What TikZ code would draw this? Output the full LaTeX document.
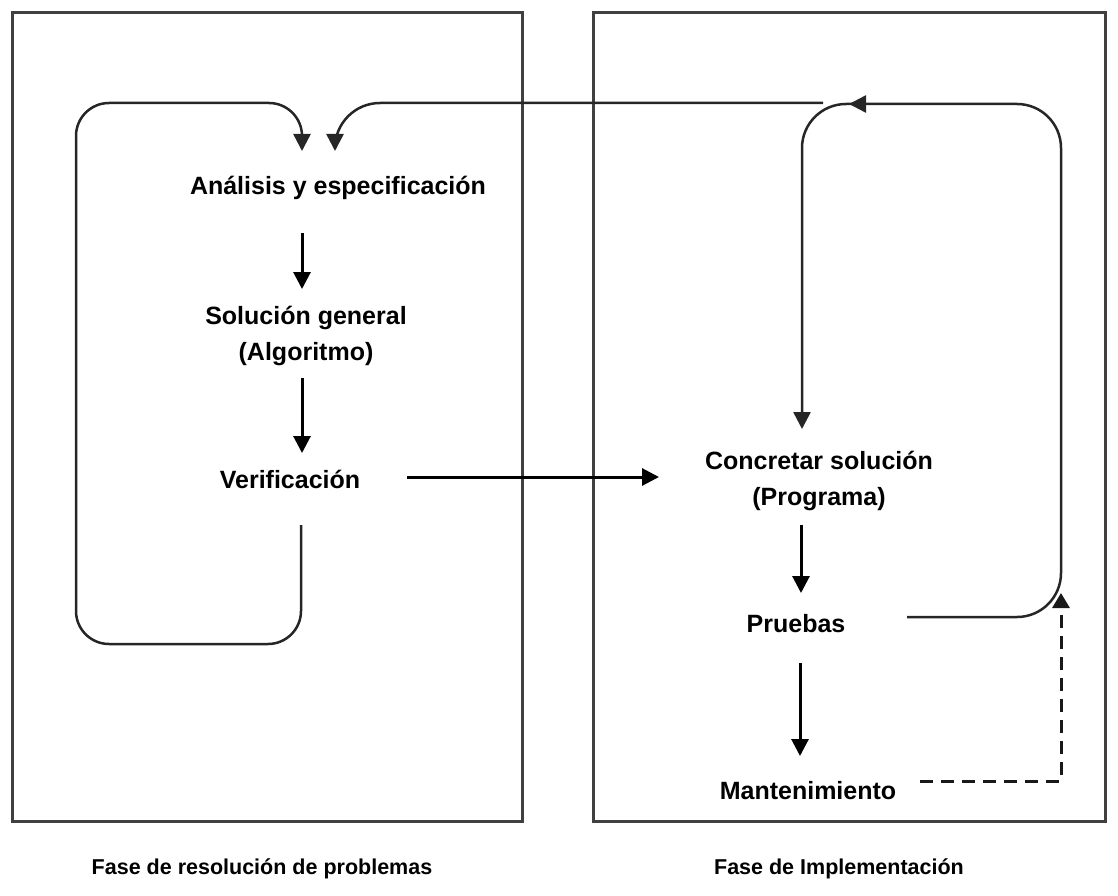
\documentclass[tikz,border=0pt]{standalone}
\usepackage{fontspec}
\setmainfont{Liberation Sans}
\usetikzlibrary{arrows.meta}
\begin{document}
\begin{tikzpicture}[x=1pt,y=-1pt,
  lbl/.style={font=\fontsize{25}{36}\selectfont\bfseries, align=center, inner sep=0pt},
  capt/.style={font=\fontsize{21.5}{26}\selectfont\bfseries, inner sep=0pt},
  frame/.style={draw=black!75, line width=2.6pt},
  tip/.style={-{Triangle[length=17pt,width=17pt]}},
  arr/.style={draw=black, line width=3pt, tip},
  loop/.style={draw=black!85, line width=2.5pt},
  looparr/.style={loop, tip},
  dsh/.style={draw=black!90, line width=3pt, dash pattern=on 13pt off 8pt, -{Triangle[length=15pt,width=17pt]}}
]
\useasboundingbox (0,0) rectangle (1118,896);
% frames
\node[frame, minimum width=510pt, minimum height=809pt, anchor=north west, inner sep=0pt] (boxL) at (11,11) {};
\node[frame, minimum width=512pt, minimum height=809pt, anchor=north west, inner sep=0pt] (boxR) at (592,11) {};
% labels
\node[lbl] (ana) at (338,188) {Análisis y especificación};
\node[lbl] (sol) at (306,336) {Solución general\\(Algoritmo)};
\node[lbl] (ver) at (290,479) {Verificación};
\node[lbl] (con) at (819,481) {Concretar solución\\(Programa)};
\node[lbl] (pru) at (796,624) {Pruebas};
\node[lbl] (man) at (808,791) {Mantenimiento};
\node[capt] (f1) at (262,869) {Fase de resolución de problemas};
\node[capt] (f2) at (839,869) {Fase de Implementación};
% arrow end points
\coordinate (a1s) at (302,233); \coordinate (a1e) at (302,289);
\coordinate (a2s) at (302,378); \coordinate (a2e) at (302,453);
\coordinate (a3s) at (407,477); \coordinate (a3e) at (659,477);
\coordinate (a4s) at (801,525); \coordinate (a4e) at (801,593);
\coordinate (a5s) at (800,663); \coordinate (a5e) at (800,756);
% straight arrows
\draw[arr] (a1s) -- (a1e);
\draw[arr] (a2s) -- (a2e);
\draw[arr] (a3s) -- (a3e);
\draw[arr] (a4s) -- (a4e);
\draw[arr] (a5s) -- (a5e);
% left loop
\coordinate (l0) at (301,525);
\coordinate (l1) at (301,644);
\coordinate (l2) at (76,644);
\coordinate (l3) at (76,103);
\coordinate (l4) at (302,103);
\coordinate (l5) at (302,151);
\draw[looparr, rounded corners=33pt] (l0) -- (l1) -- (l2) -- (l3) -- (l4) -- (l5);
% feedback from right loop to analysis
\coordinate (r0) at (823,103);
\coordinate (r1) at (335,103);
\coordinate (r2) at (335,151);
\draw[looparr, rounded corners=45pt] (r0) -- (r1) -- (r2);
% right loop
\coordinate (p0) at (907,617);
\coordinate (p1) at (1061,617);
\coordinate (p2) at (1061,104);
\coordinate (p3) at (802,104);
\coordinate (p4) at (802,429);
\draw[looparr, rounded corners=44pt] (p0) -- (p1) -- (p2) -- (p3) -- (p4);
\coordinate (m0) at (872,104);
\coordinate (m1) at (849,104);
\draw[looparr] (m0) -- (m1);
% dashed maintenance
\coordinate (d0) at (920,781);
\coordinate (d1) at (1061,781);
\coordinate (d2) at (1061,593);
\draw[dsh] (d0) -- (d1) -- (d2);
\end{tikzpicture}
\end{document}
